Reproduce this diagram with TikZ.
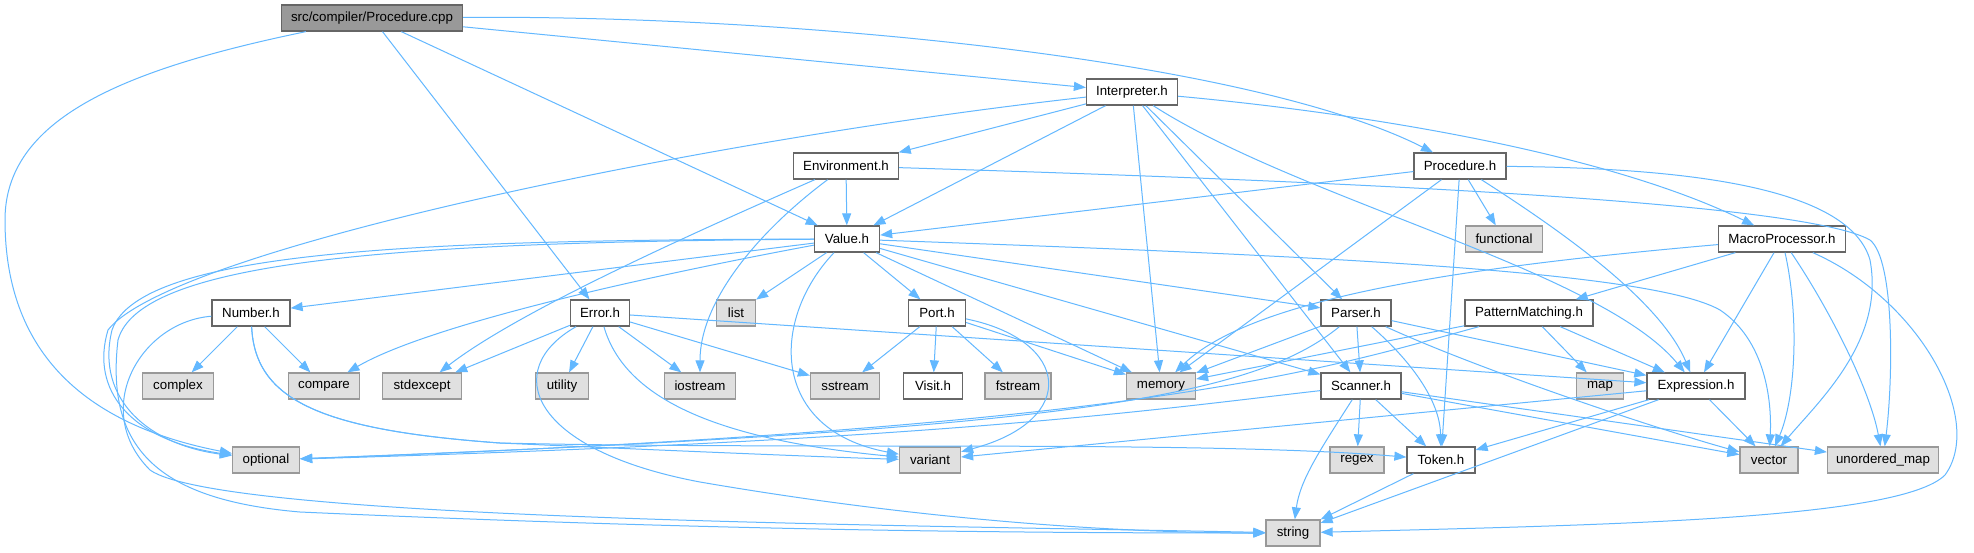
\documentclass[tikz,border=0pt]{standalone}
\usepackage{fontspec}
\setmainfont{Liberation Sans}
\usetikzlibrary{arrows.meta}

\definecolor{edgeblue}{HTML}{63B8FF}
\definecolor{boxline}{HTML}{666666}
\definecolor{sysline}{HTML}{999999}
\definecolor{sysfill}{HTML}{E0E0E0}
\definecolor{rootfill}{HTML}{999999}

\begin{document}
\begin{tikzpicture}[x=1pt, y=-1pt, >={Triangle[length=12pt,width=9pt]},
  every node/.style={font=\fontsize{13.3}{16}\selectfont, minimum height=26, inner sep=0pt},
  hdr/.style={draw=boxline, fill=white, line width=1.3pt},
  sys/.style={draw=sysline, fill=sysfill, line width=1.3pt},
  root/.style={draw=boxline, fill=rootfill, line width=1.3pt},
  dep/.style={->, draw=edgeblue, line width=1pt}]
  \fill[white] (0,0) rectangle (1974,552);
  \useasboundingbox (0,0) rectangle (1974,552);

  \node[root, minimum width=181] (cpp) at (372,18) {src/compiler/Procedure.cpp};
  \node[hdr, minimum width=91] (interp) at (1132,92) {Interpreter.h};
  \node[hdr, minimum width=105] (env) at (846,166) {Environment.h};
  \node[hdr, minimum width=92] (proch) at (1460,166) {Procedure.h};
  \node[hdr, minimum width=65] (value) at (847,239) {Value.h};
  \node[sys, minimum width=77] (functional) at (1504,239) {functional};
  \node[hdr, minimum width=127] (macro) at (1782,239) {MacroProcessor.h};
  \node[hdr, minimum width=78] (number) at (251,313) {Number.h};
  \node[hdr, minimum width=59] (error) at (600,313) {Error.h};
  \node[sys, minimum width=39] (list) at (736,313) {list};
  \node[hdr, minimum width=57] (port) at (937,313) {Port.h};
  \node[hdr, minimum width=70] (parser) at (1356,313) {Parser.h};
  \node[hdr, minimum width=128] (patmatch) at (1529,313) {PatternMatching.h};
  \node[sys, minimum width=71] (complex) at (178,386) {complex};
  \node[sys, minimum width=71] (compare) at (324,386) {compare};
  \node[sys, minimum width=79] (stdexcept) at (422,386) {stdexcept};
  \node[sys, minimum width=53] (utility) at (562,386) {utility};
  \node[sys, minimum width=71] (iostream) at (700,386) {iostream};
  \node[sys, minimum width=69] (sstream) at (845,386) {sstream};
  \node[hdr, minimum width=59] (visit) at (933,386) {Visit.h};
  \node[sys, minimum width=66] (fstream) at (1018,386) {fstream};
  \node[sys, minimum width=69] (memory) at (1161,386) {memory};
  \node[hdr, minimum width=80] (scanner) at (1361,386) {Scanner.h};
  \node[sys, minimum width=47] (map) at (1600,386) {map};
  \node[hdr, minimum width=98] (expr) at (1696,386) {Expression.h};
  \node[sys, minimum width=67] (optional) at (266,460) {optional};
  \node[sys, minimum width=61] (variant) at (930,460) {variant};
  \node[sys, minimum width=54] (regex) at (1357,460) {regex};
  \node[hdr, minimum width=68] (token) at (1441,460) {Token.h};
  \node[sys, minimum width=58] (vector) at (1769,460) {vector};
  \node[sys, minimum width=111] (umap) at (1883,460) {unordered\_map};
  \node[sys, minimum width=54] (string) at (1293,533) {string};

  \draw[dep] (cpp) .. controls (120,70) and (5,120) .. (5,220) .. controls (5,330) and (60,420) .. (optional);
  \draw[dep] (cpp) -- (error);
  \draw[dep] (cpp) -- (value);
  \draw[dep] (cpp) -- (interp);
  \draw[dep] (cpp) .. controls (800,15) and (1250,60) .. (proch);

  \draw[dep] (interp) -- (env);
  \draw[dep] (interp) -- (value);
  \draw[dep] (interp) .. controls (700,140) and (170,250) .. (108,330) .. controls (90,390) and (130,440) .. (optional);
  \draw[dep] (interp) -- (memory);
  \draw[dep] (interp) -- (scanner);
  \draw[dep] (interp) -- (parser);
  \draw[dep] (interp) .. controls (1300,200) and (1600,270) .. (expr);
  \draw[dep] (interp) .. controls (1350,112) and (1600,150) .. (macro);

  \draw[dep] (env) -- (value);
  \draw[dep] (env) .. controls (700,230) and (520,310) .. (stdexcept);
  \draw[dep] (env) .. controls (760,230) and (700,300) .. (iostream);
  \draw[dep] (env) .. controls (1300,180) and (1800,200) .. (1870,240) .. controls (1895,260) and (1893,380) .. (umap);

  \draw[dep] (proch) -- (value);
  \draw[dep] (proch) -- (functional);
  \draw[dep] (proch) -- (memory);
  \draw[dep] (proch) -- (token);
  \draw[dep] (proch) .. controls (1560,230) and (1660,300) .. (expr);
  \draw[dep] (proch) .. controls (1700,168) and (1850,190) .. (1870,260) .. controls (1885,340) and (1820,400) .. (vector);

  \draw[dep] (value) -- (number);
  \draw[dep] (value) .. controls (600,285) and (420,330) .. (compare);
  \draw[dep] (value) .. controls (420,240) and (140,250) .. (112,330) .. controls (95,400) and (150,445) .. (optional);
  \draw[dep] (value) .. controls (400,242) and (140,260) .. (118,340) .. controls (105,450) and (160,500) .. (300,512) .. controls (700,530) and (1000,533) .. (string);
  \draw[dep] (value) -- (list);
  \draw[dep] (value) -- (port);
  \draw[dep] (value) .. controls (770,320) and (770,430) .. (variant);
  \draw[dep] (value) -- (memory);
  \draw[dep] (value) -- (scanner);
  \draw[dep] (value) -- (parser);
  \draw[dep] (value) .. controls (1300,255) and (1650,270) .. (1720,310) .. controls (1765,340) and (1772,400) .. (vector);

  \draw[dep] (macro) .. controls (1450,268) and (1250,300) .. (memory);
  \draw[dep] (macro) -- (patmatch);
  \draw[dep] (macro) -- (expr);
  \draw[dep] (macro) .. controls (1800,320) and (1795,400) .. (vector);
  \draw[dep] (macro) .. controls (1830,310) and (1870,390) .. (umap);
  \draw[dep] (macro) .. controls (1920,300) and (1985,420) .. (1945,475) .. controls (1900,520) and (1600,525) .. (string);

  \draw[dep] (number) -- (complex);
  \draw[dep] (number) -- (compare);
  \draw[dep] (number) .. controls (140,322) and (90,410) .. (150,470) .. controls (220,520) and (900,525) .. (string);
  \draw[dep] (number) .. controls (255,400) and (320,430) .. (500,443) .. controls (700,452) and (850,458) .. (variant);
  \draw[dep] (number) .. controls (255,400) and (320,430) .. (500,443) .. controls (800,450) and (1200,440) .. (token);

  \draw[dep] (error) -- (stdexcept);
  \draw[dep] (error) -- (utility);
  \draw[dep] (error) -- (iostream);
  \draw[dep] (error) -- (sstream);
  \draw[dep] (error) -- (expr);
  \draw[dep] (error) .. controls (625,400) and (720,440) .. (variant);
  \draw[dep] (error) .. controls (500,370) and (530,450) .. (700,482) .. controls (950,525) and (1150,533) .. (string);

  \draw[dep] (port) -- (sstream);
  \draw[dep] (port) -- (visit);
  \draw[dep] (port) -- (fstream);
  \draw[dep] (port) -- (memory);
  \draw[dep] (port) .. controls (1070,340) and (1080,420) .. (variant);

  \draw[dep] (parser) -- (memory);
  \draw[dep] (parser) .. controls (1250,400) and (1050,430) .. (optional);
  \draw[dep] (parser) -- (scanner);
  \draw[dep] (parser) .. controls (1410,360) and (1440,400) .. (token);
  \draw[dep] (parser) -- (expr);
  \draw[dep] (parser) .. controls (1480,370) and (1660,430) .. (vector);

  \draw[dep] (patmatch) -- (memory);
  \draw[dep] (patmatch) .. controls (1320,370) and (1150,428) .. (optional);
  \draw[dep] (patmatch) -- (map);
  \draw[dep] (patmatch) -- (expr);

  \draw[dep] (scanner) .. controls (1150,410) and (950,440) .. (optional);
  \draw[dep] (scanner) -- (regex);
  \draw[dep] (scanner) -- (token);
  \draw[dep] (scanner) .. controls (1320,450) and (1300,480) .. (string);
  \draw[dep] (scanner) -- (vector);
  \draw[dep] (scanner) -- (umap);

  \draw[dep] (expr) -- (variant);
  \draw[dep] (expr) -- (token);
  \draw[dep] (expr) -- (string);
  \draw[dep] (expr) -- (vector);

  \draw[dep] (token) -- (string);
\end{tikzpicture}
\end{document}
